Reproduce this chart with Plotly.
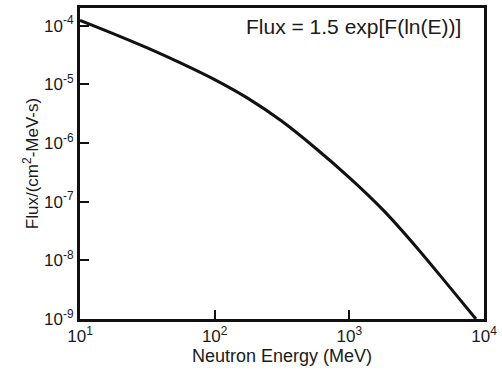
import plotly.graph_objects as go

# Curve points (energy in MeV, flux per cm2-MeV-s)
energy = [10, 17.8, 31.6, 56.2, 100, 178, 316, 562, 1000, 1778, 3162, 5623, 8710]
flux = [1.23e-4, 7.24e-5, 4.17e-5, 2.29e-5, 1.20e-5, 5.69e-6, 2.34e-6, 8.13e-7,
        2.57e-7, 7.24e-8, 1.66e-8, 3.39e-9, 1.0e-9]

x_tickvals = [10, 100, 1000, 10000]
x_ticktext = ["10<sup>1</sup>", "10<sup>2</sup>", "10<sup>3</sup>", "10<sup>4</sup>"]
y_tickvals = [1e-9, 1e-8, 1e-7, 1e-6, 1e-5, 1e-4]
y_ticktext = ["10<sup>-9</sup>", "10<sup>-8</sup>", "10<sup>-7</sup>", "10<sup>-6</sup>", "10<sup>-5</sup>", "10<sup>-4</sup>"]

fig = go.Figure()
fig.add_trace(go.Scatter(
    x=energy, y=flux, mode="lines",
    line=dict(color="#111111", width=3, shape="spline", smoothing=1.0),
    showlegend=False,
))

font = dict(family="Liberation Sans, Arial, sans-serif", color="#1a1a1a")

fig.update_layout(
    width=502, height=371,
    margin=dict(l=80, r=15, t=5, b=52),
    paper_bgcolor="white", plot_bgcolor="white",
    font=dict(size=17, **font),
    xaxis=dict(
        type="log", range=[1, 4],
        tickvals=x_tickvals, ticktext=x_ticktext,
        ticks="inside", ticklen=9, tickwidth=2, tickcolor="#111111",
        showline=True, linewidth=3, linecolor="#111111", mirror=True,
        showgrid=False, zeroline=False,
        title=dict(text="Neutron Energy (MeV)", font=dict(size=18, **font), standoff=0),
        tickfont=dict(size=17, **font),
    ),
    yaxis=dict(
        type="log", range=[-9, -3.7],
        tickvals=y_tickvals, ticktext=y_ticktext,
        ticks="inside", ticklen=9, tickwidth=2, tickcolor="#111111",
        showline=True, linewidth=3, linecolor="#111111", mirror=True,
        showgrid=False, zeroline=False,
        title=dict(text="Flux/(cm<sup>2</sup>-MeV-s)", font=dict(size=17, **font), standoff=2),
        tickfont=dict(size=17, **font),
    ),
    annotations=[dict(
        x=0.948, y=0.985, xref="paper", yref="paper",
        xanchor="right", yanchor="top", showarrow=False,
        text="Flux = 1.5 exp[F(ln(E))]", font=dict(size=21, **font),
    )],
)

fig.write_html("out.html")
